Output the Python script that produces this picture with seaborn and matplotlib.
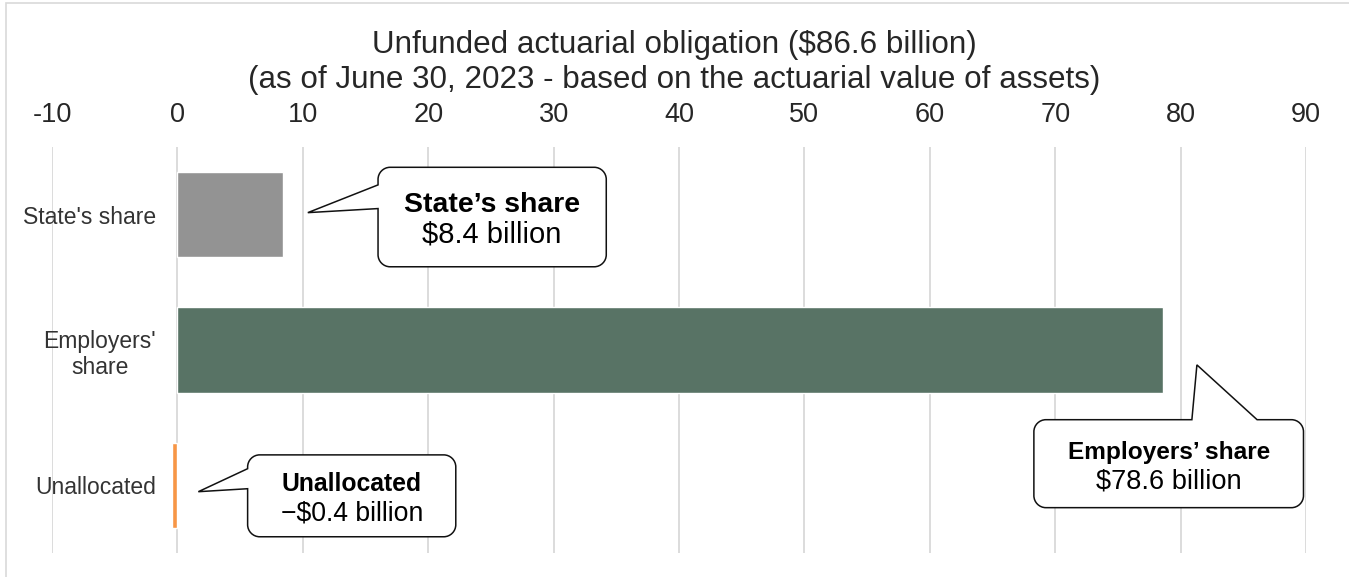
import matplotlib
matplotlib.use("Agg")
import matplotlib.pyplot as plt
import seaborn as sns
import pandas as pd
from matplotlib.path import Path
from matplotlib.patches import PathPatch, Rectangle

# ---- data ----
categories = ["State's share", "Employers'\nshare", "Unallocated"]
values = [8.4, 78.6, -0.4]
bar_colors = ["#939393", "#587365", "#F79646"]
callout_titles = ["State\u2019s share", "Employers\u2019 share", "Unallocated"]
callout_values = ["$8.4 billion", "$78.6 billion", "\u2212$0.4 billion"]
x_ticks = list(range(-10, 100, 10))
title_lines = [
    "Unfunded actuarial obligation ($86.6 billion)",
    "(as of June 30, 2023 - based on the actuarial value of assets)",
]

sns.set_theme(style="white")
plt.rcParams["font.family"] = ["Liberation Sans", "DejaVu Sans"]

W, H = 1349, 577
fig = plt.figure(figsize=(W / 100, H / 100), dpi=100)
ax = fig.add_axes([52 / W, 1 - 553 / H, (1306 - 52) / W, (553 - 147) / H])

df = pd.DataFrame({"category": categories, "value": values})
sns.barplot(data=df, x="value", y="category", hue="category",
            palette=bar_colors, legend=False, width=0.63, saturation=1,
            orient="h", ax=ax)

ax.set_xlim(-10, 90)
ax.set_ylim(2.5, -0.5)
ax.set_xticks(x_ticks)
ax.set_xticklabels([str(t) for t in x_ticks])
ax.xaxis.tick_top()
ax.tick_params(axis="x", length=0, pad=14, labelsize=19.5, labelcolor="#262626")
ax.tick_params(axis="y", length=0, pad=-75, labelsize=16.5, labelcolor="#333333")
for lbl in ax.get_yticklabels():
    lbl.set_multialignment("center")
ax.set_xlabel("")
ax.set_ylabel("")
ax.grid(axis="x", color="#d9d9d9", linewidth=1.3)
ax.grid(axis="y", visible=False)
ax.set_axisbelow(True)
for s in ax.spines.values():
    s.set_visible(False)

for i, line in enumerate(title_lines):
    fig.text(0.5, 1 - (45 + 35 * i) / H, line, ha="center", va="center",
             fontsize=22.6, color="#262626")

# ---- speech-bubble callouts (data coordinates) ----
RX, RY = 0.96, 0.089  # corner radius in x / y data units


def bubble_path(x0, x1, y0, y1, side, a, b, tip):
    """Rounded box (y0 top, y1 bottom on inverted axis) with a tail.
    side: 'left' -> tail base between y=a and y=b on left edge
          'top'  -> tail base between x=a and x=b on top edge"""
    k = 0.45
    v, c = [], []

    def mv(p):
        v.append(p); c.append(Path.MOVETO)

    def ln(p):
        v.append(p); c.append(Path.LINETO)

    def corner(p_ctrl, p_end):
        # cubic approximation of a quarter circle
        sx, sy = v[-1]
        ex, ey = p_end
        cx, cy = p_ctrl
        v.extend([(sx + (cx - sx) * (1 - k), sy + (cy - sy) * (1 - k)),
                  (ex + (cx - ex) * (1 - k), ey + (cy - ey) * (1 - k)),
                  p_end])
        c.extend([Path.CURVE4] * 3)

    mv((x0 + RX, y0))
    if side == "top":
        ln((a, y0)); ln(tip); ln((b, y0))
    ln((x1 - RX, y0))
    corner((x1, y0), (x1, y0 + RY))
    ln((x1, y1 - RY))
    corner((x1, y1), (x1 - RX, y1))
    ln((x0 + RX, y1))
    corner((x0, y1), (x0, y1 - RY))
    if side == "left":
        ln((x0, b)); ln(tip); ln((x0, a))
    ln((x0, y0 + RY))
    corner((x0, y0), (x0 + RX, y0))
    c.append(Path.CLOSEPOLY); v.append((x0 + RX, y0))
    return Path(v, c)


callouts = [
    dict(box=(16.0, 34.2, -0.35, 0.385), side="left", a=-0.22, b=-0.045,
         tip=(values[0] + 2.0, -0.015), sizes=(20.4, 21.0)),
    dict(box=(68.3, 89.8, 1.515, 2.165), side="top", a=80.9, b=86.1,
         tip=(values[1] + 2.7, 1.11), sizes=(17.6, 19.6)),
    dict(box=(5.6, 22.2, 1.775, 2.38), side="left", a=1.877, b=2.025,
         tip=(values[2] + 2.07, 2.047), sizes=(17.8, 19.2)),
]

for co, ttl, val in zip(callouts, callout_titles, callout_values):
    x0, x1, y0, y1 = co["box"]
    p = bubble_path(x0, x1, y0, y1, co["side"], co["a"], co["b"], co["tip"])
    ax.add_patch(PathPatch(p, facecolor="white", edgecolor="#111111",
                           linewidth=1.1, zorder=5, clip_on=False))
    cx, cy = (x0 + x1) / 2, (y0 + y1) / 2
    fs_title, fs_val = co["sizes"]
    ax.text(cx, cy - 0.035, ttl, ha="center", va="baseline", fontsize=fs_title,
            fontweight="bold", color="black", zorder=6)
    ax.text(cx, cy + 0.185, val, ha="center", va="baseline", fontsize=fs_val,
            color="black", zorder=6)

# light frame around the chart area
fig.patches.append(Rectangle((6 / W, -0.02), (W + 10) / W, 1 - 3 / H + 0.02,
                             transform=fig.transFigure, fill=False,
                             edgecolor="#d9d9d9", linewidth=1.2))

fig.savefig("out.png", dpi=100)
